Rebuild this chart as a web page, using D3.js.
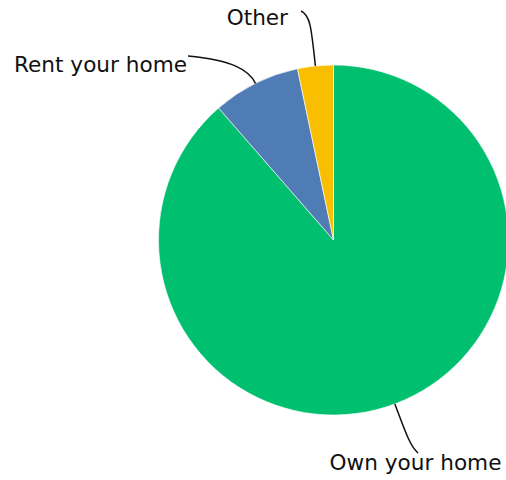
<!DOCTYPE html>
<html><head><meta charset="utf-8">
<script src="https://cdn.jsdelivr.net/npm/d3@7"></script>
<style>html,body{margin:0;padding:0;background:#fff;}svg{display:block;}</style>
</head><body>
<svg id="c" width="506" height="480"></svg>
<script>
const categories = ["Own your home", "Rent your home", "Other"];
const values = [88.6, 8.1, 3.3];
const colors = ["#00BF6F", "#507CB6", "#F9BE00"];

// label layout (leader end point, text position, anchor)
const labelLayout = [
  {endX: 418, endY: 453, c1: 30, c2x: 410, c2y: 446, tx: 415.5, ty: 469.5, anchor: "middle"},
  {endX: 188, endY: 56, c1: 15, c2x: 232, c2y: 60, tx: 187, ty: 72, anchor: "end"},
  {endX: 301, endY: 11, c1: 40, c2x: 310, c2y: 15, tx: 288, ty: 25, anchor: "end"}
];

const cx = 333.5, cy = 240, r = 175;
const svg = d3.select("#c");
const g = svg.append("g").attr("transform", `translate(${cx},${cy})`);

const pie = d3.pie().sort(null).value(d => d)(values);
const arc = d3.arc().innerRadius(0).outerRadius(r);

g.selectAll("path.slice").data(pie).join("path")
  .attr("class", "slice")
  .attr("d", arc)
  .attr("fill", (d, i) => colors[i])
  .attr("stroke", "#ffffff")
  .attr("stroke-width", 0.6);

pie.forEach((d, i) => {
  const a = (d.startAngle + d.endAngle) / 2;
  const ax = r * Math.sin(a), ay = -r * Math.cos(a);
  const L = labelLayout[i];
  const c1x = (r + L.c1) * Math.sin(a), c1y = -(r + L.c1) * Math.cos(a);
  const p = d3.path();
  p.moveTo(ax, ay);
  p.bezierCurveTo(c1x, c1y, L.c2x - cx, L.c2y - cy, L.endX - cx, L.endY - cy);
  g.append("path").attr("d", p.toString())
    .attr("fill", "none").attr("stroke", "#111").attr("stroke-width", 1.5);
  svg.append("text")
    .attr("x", L.tx).attr("y", L.ty)
    .attr("text-anchor", L.anchor)
    .attr("font-family", "DejaVu Sans, Verdana, sans-serif")
    .attr("font-size", 21.6)
    .attr("fill", "#111")
    .text(categories[i]);
});
</script>
</body></html>
